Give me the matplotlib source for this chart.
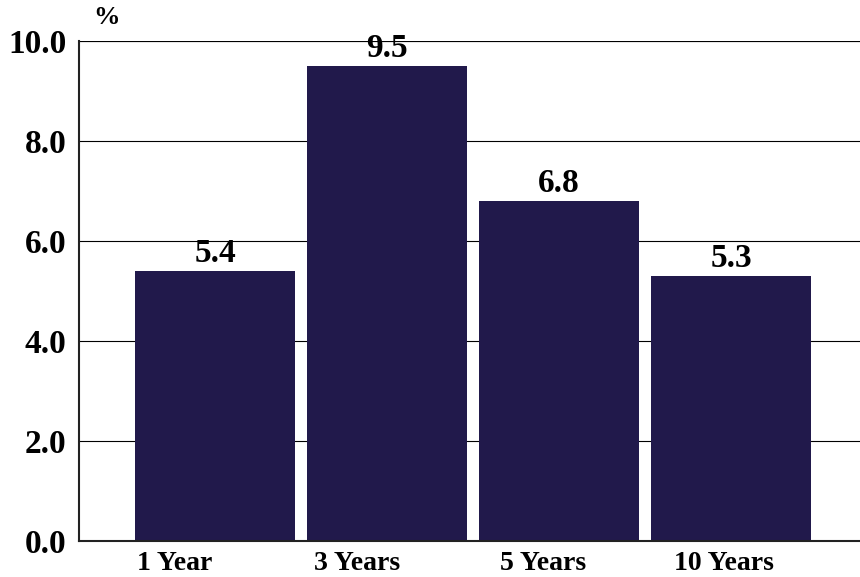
import matplotlib
matplotlib.use("Agg")
import matplotlib.pyplot as plt

categories = ["1 Year", "3 Years", "5 Years", "10 Years"]
values = [5.4, 9.5, 6.8, 5.3]
yticks = [0.0, 2.0, 4.0, 6.0, 8.0, 10.0]
ytick_labels = ["0.0", "2.0", "4.0", "6.0", "8.0", "10.0"]

plt.rcParams['font.family'] = ['Liberation Serif', 'DejaVu Serif']
plt.rcParams['font.weight'] = 'bold'

W, H = 860, 577
fig = plt.figure(figsize=(W/100, H/100), dpi=100)
ax = fig.add_axes([79/W, 1-541/H, (860-79)/W, 500/H])

x = list(range(len(categories)))
ax.bar(x, values, width=160/172, color="#21194b", zorder=2)
for xi, v in zip(x, values):
    ax.annotate(f"{v:.1f}", (xi, v), xytext=(0, 1.5), textcoords="offset points",
                ha="center", va="bottom", fontsize=24, fontweight="bold", zorder=3)

ax.set_xlim((79-215)/172, (860-215)/172)
ax.set_ylim(0, 10)
ax.set_yticks(yticks)
ax.set_yticklabels(ytick_labels, fontsize=24, fontweight="bold")
# category labels in the reference sit slightly left of the bar centres
label_shift = [-0.235, -0.174, -0.093, -0.041]
ax.set_xticks([xi + s for xi, s in zip(x, label_shift)])
ax.set_xticklabels(categories, fontsize=20, fontweight="bold")
ax.tick_params(axis="both", length=0)
ax.tick_params(axis="x", pad=7)
ax.tick_params(axis="y", pad=9)
ax.grid(axis="y", color="black", linewidth=0.8, zorder=1)
ax.set_axisbelow(True)
for s in ["top", "right"]:
    ax.spines[s].set_visible(False)
ax.spines["left"].set_linewidth(1.5)
ax.spines["bottom"].set_linewidth(1.5)
ax.spines["left"].set_color("#222222")
ax.spines["bottom"].set_color("#222222")
ax.axhline(10, color="black", linewidth=1.5, zorder=1)

fig.text(107/W, 1-18/H, "%", fontsize=19, fontweight="bold", ha="center", va="center")

fig.savefig("out.png", dpi=100)
